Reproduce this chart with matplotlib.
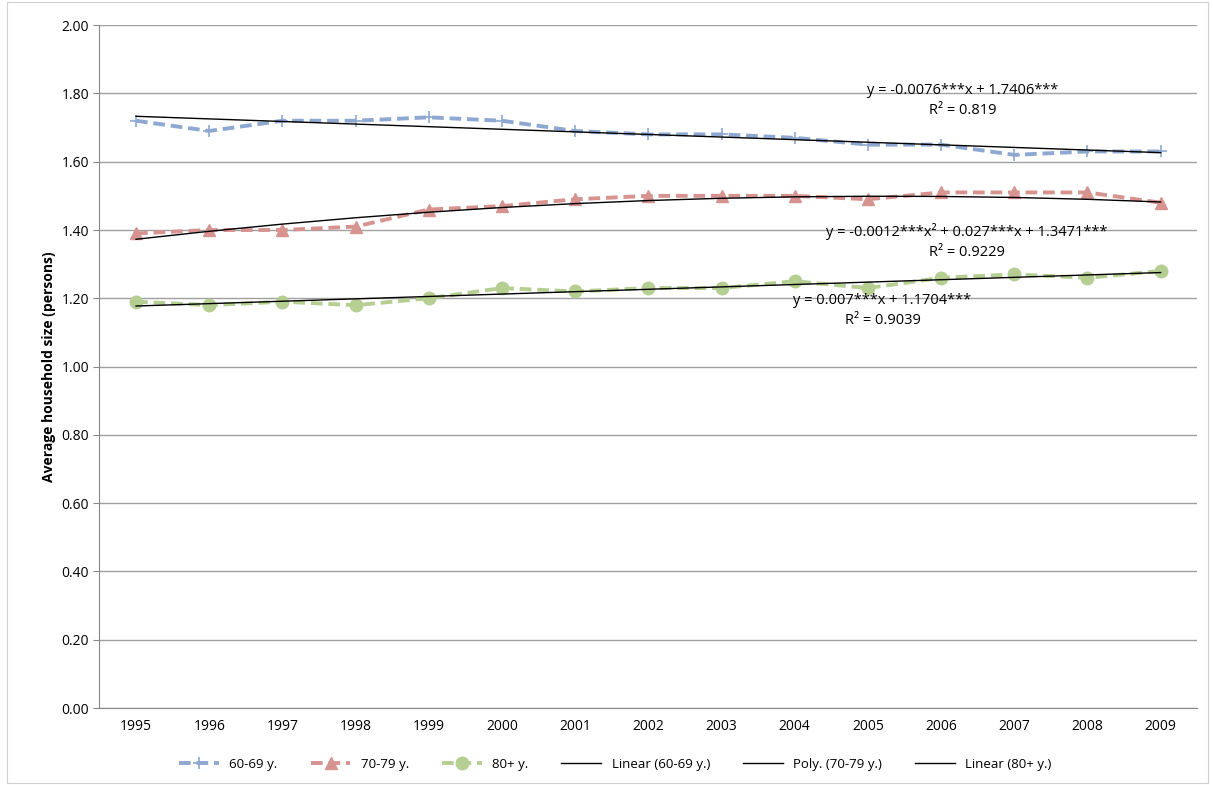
import numpy as np
import matplotlib.pyplot as plt

plt.rcParams['font.family'] = ['Open Sans', 'DejaVu Sans']

years = list(range(1995, 2010))
age_60_69 = [1.72, 1.69, 1.72, 1.72, 1.73, 1.72, 1.69, 1.68, 1.68, 1.67, 1.65, 1.65, 1.62, 1.63, 1.63]
age_70_79 = [1.39, 1.40, 1.40, 1.41, 1.46, 1.47, 1.49, 1.50, 1.50, 1.50, 1.49, 1.51, 1.51, 1.51, 1.48]
age_80 = [1.19, 1.18, 1.19, 1.18, 1.20, 1.23, 1.22, 1.23, 1.23, 1.25, 1.23, 1.26, 1.27, 1.26, 1.28]

# trend coefficients as printed on the chart (x = 1..15)
lin_60 = [-0.0076, 1.7406]
poly_70 = [-0.0012, 0.027, 1.3471]
lin_80 = [0.007, 1.1704]

fig = plt.figure(figsize=(12.13, 7.85), dpi=100)
ax = fig.add_axes([0.082, 0.098, 0.905, 0.870])
fig.patches.append(plt.Rectangle((0.006, 0.003), 0.99, 0.994, transform=fig.transFigure,
                                 fill=False, edgecolor='#d0d0d0', lw=0.8))

x = np.arange(len(years))
t = x + 1
ax.plot(x, age_60_69, color='#8ea8d2', ls='--', lw=2.8, marker='+', ms=9, mew=1.2, label='60-69 y.', dashes=(3, 1.5))
ax.plot(x, age_70_79, color='#d69390', ls='--', lw=2.8, marker='^', ms=8, label='70-79 y.', dashes=(3, 1.5))
ax.plot(x, age_80, color='#b5ce92', ls='--', lw=2.8, marker='o', ms=9, label='80+ y.', dashes=(3, 1.5))
ax.plot(x, np.polyval(lin_60, t), color='black', lw=1, label='Linear (60-69 y.)')
ax.plot(x, np.polyval(poly_70, t), color='black', lw=1, label='Poly. (70-79 y.)')
ax.plot(x, np.polyval(lin_80, t), color='black', lw=1, label='Linear (80+ y.)')

ax.text(11.3, 1.78, 'y = -0.0076***x + 1.7406***\nR² = 0.819', ha='center', va='center', fontsize=10.5, linespacing=1.45)
ax.text(11.35, 1.365, 'y = -0.0012***x² + 0.027***x + 1.3471***\nR² = 0.9229', ha='center', va='center', fontsize=10.5, linespacing=1.45)
ax.text(10.2, 1.165, 'y = 0.007***x + 1.1704***\nR² = 0.9039', ha='center', va='center', fontsize=10.5, linespacing=1.45)

ax.set_xlim(-0.5, 14.5)
ax.set_ylim(0, 2.0)
ax.set_yticks(np.arange(0, 2.01, 0.2))
ax.set_yticklabels([f'{v:.2f}' for v in np.arange(0, 2.01, 0.2)], fontsize=10)
ax.set_xticks(x)
ax.set_xticklabels(years, fontsize=10)
ax.tick_params(axis='y', length=4, color='#888888')
ax.tick_params(axis='x', length=0, pad=8)
ax.grid(axis='y', color='#a0a0a0', lw=1)
ax.set_axisbelow(True)
for s in ['top', 'right']:
    ax.spines[s].set_visible(False)
for s in ['left', 'bottom']:
    ax.spines[s].set_color('#888888')
ax.set_ylabel('Average household size (persons)', fontsize=10, fontweight='bold')

ax.legend(loc='upper center', bbox_to_anchor=(0.47, -0.055), ncol=6, frameon=False, fontsize=9.5,
          handlelength=3, columnspacing=2.5)

fig.savefig('out.png', dpi=100)
